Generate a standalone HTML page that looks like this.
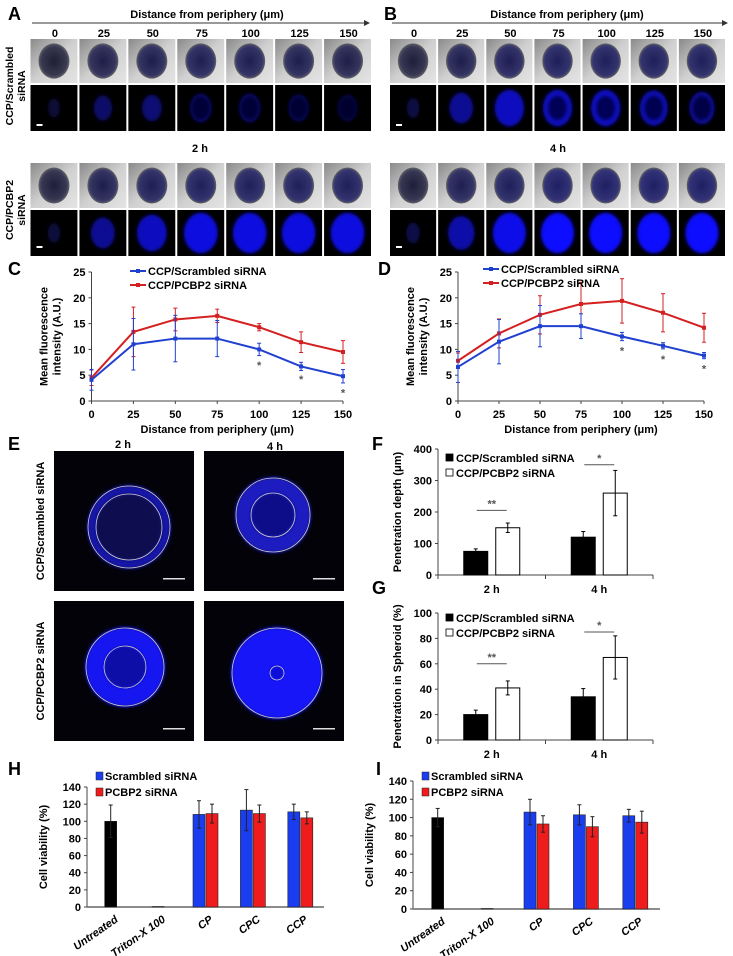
<!DOCTYPE html>
<html><head><meta charset="utf-8"><style>
body{margin:0;background:#fff}
svg{display:block;font-family:"Liberation Sans",Arial,sans-serif;font-weight:bold}
</style></head><body>
<svg id="fig" width="733" height="956" viewBox="0 0 733 956">
<defs>
<radialGradient id="bf" cx="50%" cy="50%" r="50%"><stop offset="0" stop-color="#1e1e2e"/><stop offset="0.8" stop-color="#3a3a48"/><stop offset="1" stop-color="#606068"/></radialGradient>
<linearGradient id="bg" x1="0" y1="0" x2="1" y2="1"><stop offset="0" stop-color="#8a8a8a"/><stop offset="0.5" stop-color="#d0d0d0"/><stop offset="1" stop-color="#e4e4e4"/></linearGradient>
<filter id="blur"><feGaussianBlur stdDeviation="1.5"/></filter>
</defs>
<g id="top">
<text x="8" y="20" font-size="18">A</text>
<text x="384" y="20" font-size="18">B</text>
<text x="207" y="18" font-size="11" text-anchor="middle">Distance from periphery (μm)</text>
<text x="567" y="18" font-size="11" text-anchor="middle">Distance from periphery (μm)</text>
<line x1="32" y1="23" x2="364" y2="23" stroke="#333"/><path d="M364,20 L370,23 L364,26Z" fill="#333"/>
<line x1="392" y1="23" x2="722" y2="23" stroke="#333"/><path d="M722,20 L728,23 L722,26Z" fill="#333"/>
<text x="200" y="152" font-size="11" text-anchor="middle">2 h</text>
<text x="558" y="152" font-size="11" text-anchor="middle">4 h</text>
<text transform="translate(13,86) rotate(-90)" font-size="10.5" text-anchor="middle">CCP/Scrambled</text>
<text transform="translate(25,86) rotate(-90)" font-size="10.5" text-anchor="middle">siRNA</text>
<text transform="translate(13,210) rotate(-90)" font-size="10.5" text-anchor="middle">CCP/PCBP2</text>
<text transform="translate(25,210) rotate(-90)" font-size="10.5" text-anchor="middle">siRNA</text>
</g>
<g id="eimg">
<text x="8" y="450" font-size="18">E</text>
<text x="123" y="448" font-size="11" text-anchor="middle">2 h</text>
<text x="275" y="450" font-size="11" text-anchor="middle">4 h</text>
<text transform="translate(44,521) rotate(-90)" font-size="11" text-anchor="middle">CCP/Scrambled siRNA</text>
<text transform="translate(44,671) rotate(-90)" font-size="11" text-anchor="middle">CCP/PCBP2 siRNA</text>
</g>
<g id="charts"></g>
</svg>
<script>
const NS="http://www.w3.org/2000/svg";
const fig=document.getElementById('fig');
function mk(tag,attrs,parent,txt){const e=document.createElementNS(NS,tag);for(const k in attrs)e.setAttribute(k,attrs[k]);if(txt!==undefined)e.textContent=txt;(parent||fig).appendChild(e);return e;}

// ===== Panel C/D data =====
const distances=[0,25,50,75,100,125,150];
const cScrambled=[4.1,11.0,12.1,12.1,10.0,6.7,4.8];
const cScrambledErr=[2.0,5.0,4.5,3.5,1.2,0.8,1.3];
const cPcbp2=[4.5,13.4,15.8,16.5,14.3,11.4,9.5];
const cPcbp2Err=[1.5,4.8,2.2,1.3,0.7,2.0,2.2];
const cStars=[[100,7.2],[125,4.5],[150,1.8]];
const dScrambled=[6.6,11.5,14.5,14.5,12.5,10.7,8.8];
const dScrambledErr=[3.0,4.3,4.0,2.4,0.8,0.6,0.6];
const dPcbp2=[7.8,13.1,16.7,18.8,19.4,17.1,14.2];
const dPcbp2Err=[1.5,2.8,3.7,4.2,4.3,3.7,2.8];
const dStars=[[100,10.0],[125,8.3],[150,6.5]];
const lineYTicks=[0,5,10,15,20,25];

// ===== Panel F/G data =====
const timeGroups=['2 h','4 h'];
const fScr=[75,120], fScrErr=[8,18], fPc=[150,260], fPcErr=[15,72];
const fTicks=[0,100,200,300,400];
const fSig=['**','*'], fSigY=[205,350];
const gScr=[20,34], gScrErr=[3.5,6.5], gPc=[41,65], gPcErr=[5.5,17];
const gTicks=[0,20,40,60,80,100];
const gSigY=[60,85];

// ===== Panel H/I data =====
const viabCats=['Untreated','Triton-X 100','CP','CPC','CCP'];
const hControl=[100,0.5], hControlErr=[19,0];
const hScr=[108,113,111], hScrErr=[16,24,9];
const hPc=[109,109,104], hPcErr=[11,10,7];
const iControl=[100,0.5], iControlErr=[10,0];
const iScr=[106,103,102], iScrErr=[14,11,7];
const iPc=[93,90,95], iPcErr=[9,11,12];
const viabTicks=[0,20,40,60,80,100,120,140];

// ===== Top image grids (decorative) =====
const topIntA=[[0.1,0.3,0.35,0.4,0.4,0.35,0.3],[0.08,0.3,0.35,0.4,0.4,0.35,0.3],[0.15,0.35,0.45,0.5,0.5,0.5,0.5],[0.1,0.5,0.7,0.85,0.85,0.85,0.85]];
const topIntB=[[0.15,0.35,0.45,0.5,0.5,0.5,0.5],[0.12,0.5,0.7,0.7,0.7,0.65,0.55],[0.15,0.4,0.5,0.6,0.6,0.6,0.6],[0.15,0.6,0.9,1,1,1,1]];
function grid(x0,x1,panel){
  const w=(x1-x0)/7;const labels=['0','25','50','75','100','125','150'];
  const rows=[[39,84],[85,132],[163,209],[210,257]];
  const ints=panel==='b'?topIntB:topIntA;
  for(let c=0;c<7;c++){
    const x=x0+c*w;
    const t=mk('text',{x:x+w/2,y:37,'font-size':11,'text-anchor':'middle'},fig,labels[c]);
    
    
    rows.forEach((r,ri)=>{
      const h=r[1]-r[0]-1, iw=w-2;
      const bright=(ri%2===0);
      const it=ints[ri][c];
      const im=mk('rect',{x:x,y:r[0],width:iw,height:h,fill:bright?'url(#bg)':'#000'});
      
      
      const cx=x+iw/2, cy=r[0]+h/2;
      if(bright){
        mk('ellipse',{cx:cx,cy:cy,rx:iw*0.33,ry:h*0.4,fill:'url(#bf)'});
        mk('ellipse',{cx:cx,cy:cy,rx:iw*0.3,ry:h*0.37,fill:'#2020d0','fill-opacity':Math.min(0.5,it*0.55)});
      }else{
        const b=Math.round(40+215*Math.min(1,it));
        const sz=0.1+0.26*Math.min(1,it*1.2);
        mk('ellipse',{cx:cx,cy:cy,rx:iw*sz,ry:h*(sz+0.08),fill:'rgb(10,10,'+b+')',filter:'url(#blur)'});
        if(c>=3 && ri===1) mk('ellipse',{cx:cx,cy:cy,rx:iw*0.2,ry:h*0.26,fill:'rgb(0,0,'+Math.round(b*0.45)+')',filter:'url(#blur)'});
      }
    });
  }
  mk('rect',{x:x0+6,y:124,width:6,height:2,fill:'#fff'});
  mk('rect',{x:x0+6,y:246,width:6,height:2,fill:'#fff'});
}
grid(30.5,373,'a');grid(390,727,'b');

// ===== Panel E images =====
const eImgs=[[54,451,75,76,41,33,'#1818a8','#0a0a50'],[204,451,69,64,37,22,'#1c1cc0','#10108a'],[54,601,71,66,39,21,'#1818f0','#1010a8'],[204,601,73,72,45,7,'#1414f8','#1010d8']];
eImgs.forEach((d,i)=>{
  const r=mk('rect',{x:d[0],y:d[1],width:140,height:140,fill:'#020208'});
  
  
  mk('circle',{cx:d[0]+d[2],cy:d[1]+d[3],r:d[4]+1,fill:d[6],filter:'url(#blur)'});
  mk('circle',{cx:d[0]+d[2],cy:d[1]+d[3],r:d[5],fill:d[7],filter:'url(#blur)'});
  mk('circle',{cx:d[0]+d[2],cy:d[1]+d[3],r:d[4],fill:'none',stroke:'#ccc','stroke-width':0.8});
  mk('circle',{cx:d[0]+d[2],cy:d[1]+d[3],r:d[5],fill:'none',stroke:'#ccc','stroke-width':0.8});
  mk('rect',{x:d[0]+109,y:d[1]+127,width:22,height:1.5,fill:'#ddd'});
});

const G=document.getElementById('charts');
function yAxis(g,x,yBot,yTop,ticks,vmax,name){
  const sy=v=>yBot-(v/vmax)*(yBot-yTop);
  const ax=mk('line',{x1:x,y1:yBot,x2:x,y2:yTop,stroke:'#444'},g);
  
  
  ticks.forEach(t=>{mk('line',{x1:x-3,y1:sy(t),x2:x,y2:sy(t),stroke:'#444'},g);
    mk('text',{x:x-6,y:sy(t)+4,'font-size':11,'text-anchor':'end'},g,t);});
  return sy;
}

function lineChart(p,x0,x1,yBot,yTop,bv,be,rv,re,stars,legX,legY){
  const g=mk('g',{},G);
  
  
  const sy=yAxis(g,x0,yBot,yTop,lineYTicks,25,'y-axis-'+p);
  const sx=v=>x0+(v/150)*(x1-x0);
  const xa=mk('line',{x1:x0,y1:yBot,x2:x1,y2:yBot,stroke:'#444'},g);
  
  
  distances.forEach(d=>{mk('line',{x1:sx(d),y1:yBot,x2:sx(d),y2:yBot+3,stroke:'#444'},g);
    mk('text',{x:sx(d),y:yBot+17,'font-size':11,'text-anchor':'middle'},g,d);});
  const t=mk('text',{x:(x0+x1)/2,y:yBot+32,'font-size':11,'text-anchor':'middle'},g,'Distance from periphery (μm)');
  
  
  const yt=(yBot+yTop)/2, lx=x0-44;
  const y1=mk('text',{transform:`translate(${lx},${yt}) rotate(-90)`,'font-size':11,'text-anchor':'middle'},g,'Mean fluorescence');
  
  
  mk('text',{transform:`translate(${lx+13},${yt}) rotate(-90)`,'font-size':11,'text-anchor':'middle'},g,'intensity (A.U.)');
  [[rv,re,'#d42020','pcbp2'],[bv,be,'#2040d0','scrambled']].forEach(s=>{
    const pl=mk('polyline',{points:distances.map((d,i)=>sx(d)+','+sy(s[0][i])).join(' '),fill:'none',stroke:s[2],'stroke-width':2},g);
    
    
    distances.forEach((d,i)=>{
      const X=sx(d);
      mk('line',{x1:X,y1:sy(s[0][i]-s[1][i]),x2:X,y2:sy(s[0][i]+s[1][i]),stroke:s[2]},g);
      mk('line',{x1:X-2,y1:sy(s[0][i]+s[1][i]),x2:X+2,y2:sy(s[0][i]+s[1][i]),stroke:s[2]},g);
      mk('line',{x1:X-2,y1:sy(s[0][i]-s[1][i]),x2:X+2,y2:sy(s[0][i]-s[1][i]),stroke:s[2]},g);
      const pt=mk('rect',{x:X-2,y:sy(s[0][i])-2,width:4,height:4,fill:s[2]},g);
      
      
    });
  });
  stars.forEach(s=>mk('text',{x:sx(s[0]),y:sy(s[1])+5,'font-size':11,'text-anchor':'middle',fill:'#555'},g,'*'));
  [['CCP/Scrambled siRNA','#2040d0'],['CCP/PCBP2 siRNA','#d42020']].forEach((l,i)=>{
    const yy=legY+i*14;
    mk('line',{x1:legX,y1:yy,x2:legX+16,y2:yy,stroke:l[1],'stroke-width':2},g);
    mk('rect',{x:legX+6,y:yy-2,width:4,height:4,fill:l[1]},g);
    const lt=mk('text',{x:legX+18,y:yy+4,'font-size':11},g,l[0]);
    
    
  });
}
mk('text',{x:8,y:275,'font-size':18},G,'C');
mk('text',{x:378,y:275,'font-size':18},G,'D');
lineChart('c',91.5,343,401,272,cScrambled,cScrambledErr,cPcbp2,cPcbp2Err,cStars,130,271);
lineChart('d',458,704,401,272,dScrambled,dScrambledErr,dPcbp2,dPcbp2Err,dStars,483,269);

function pairBar(p,yBot,yTop,ticks,vmax,scr,scrE,pc,pcE,sigY,title,legY){
  const g=mk('g',{},G);
  
  
  const x0=438,x1=653;
  const sy=yAxis(g,x0,yBot,yTop,ticks,vmax,'y-axis-'+p);
  const xa=mk('line',{x1:x0,y1:yBot,x2:x1,y2:yBot,stroke:'#444'},g);
  
  
  [x0,(x0+x1)/2,x1].forEach(x=>mk('line',{x1:x,y1:yBot,x2:x,y2:yBot+4,stroke:'#444'},g));
  const gw=(x1-x0)/2, bw=24;
  timeGroups.forEach((tg,i)=>{
    const c=x0+gw*(i+0.5);
    [[scr,scrE,'#000',c-bw-4,'scrambled'],[pc,pcE,'#fff',c+4,'pcbp2']].forEach(s=>{
      const b=mk('rect',{x:s[3],y:sy(s[0][i]),width:bw,height:yBot-sy(s[0][i]),fill:s[2],stroke:'#000','stroke-width':1},g);
      
      
      const bx=s[3]+bw/2;
      mk('line',{x1:bx,y1:sy(s[0][i]),x2:bx,y2:sy(s[0][i]+s[1][i]),stroke:'#000'},g);
      mk('line',{x1:bx-2,y1:sy(s[0][i]+s[1][i]),x2:bx+2,y2:sy(s[0][i]+s[1][i]),stroke:'#000'},g);
      if(s[2]==='#fff'){mk('line',{x1:bx,y1:sy(s[0][i]),x2:bx,y2:sy(s[0][i]-s[1][i]),stroke:'#000'},g);
        mk('line',{x1:bx-2,y1:sy(s[0][i]-s[1][i]),x2:bx+2,y2:sy(s[0][i]-s[1][i]),stroke:'#000'},g);}
    });
    mk('line',{x1:c-15,y1:sy(sigY[i]),x2:c+15,y2:sy(sigY[i]),stroke:'#555'},g);
    mk('text',{x:c,y:sy(sigY[i])-3,'font-size':11,'text-anchor':'middle',fill:'#555'},g,fSig[i]);
    const xl=mk('text',{x:c,y:yBot+18,'font-size':11,'text-anchor':'middle'},g,tg);
    
    
  });
  const yt=mk('text',{transform:`translate(401,${(yBot+yTop)/2}) rotate(-90)`,'font-size':11,'text-anchor':'middle'},g,title);
  
  
  [['CCP/Scrambled siRNA','#000'],['CCP/PCBP2 siRNA','#fff']].forEach((l,i)=>{
    const yy=legY+i*15;
    mk('rect',{x:446,y:yy-8,width:7,height:7,fill:l[1],stroke:'#000','stroke-width':0.8},g);
    const lt=mk('text',{x:456,y:yy,'font-size':11},g,l[0]);
    
    
  });
}
mk('text',{x:372,y:450,'font-size':18},G,'F');
mk('text',{x:372,y:594,'font-size':18},G,'G');
pairBar('f',575,449,fTicks,400,fScr,fScrErr,fPc,fPcErr,fSigY,'Penetration depth (μm)',462);
pairBar('g',740,613,gTicks,100,gScr,gScrErr,gPc,gPcErr,gSigY,'Penetration in Spheroid (%)',622);

function viab(p,x0,x1,yBot,yTop,ctl,ctlE,scr,scrE,pc,pcE){
  const g=mk('g',{},G);
  
  
  const sy=yAxis(g,x0,yBot,yTop,viabTicks,140,'y-axis-'+p);
  const xa=mk('line',{x1:x0,y1:yBot,x2:x1,y2:yBot,stroke:'#666','stroke-width':1.5},g);
  
  
  const gw=(x1-x0)/5, bw=12;
  function bar(cx,v,e,col,nm){
    const b=mk('rect',{x:cx-bw/2,y:sy(v),width:bw,height:yBot-sy(v),fill:col,stroke:'#222','stroke-width':0.6},g);
    
    
    if(e>0){mk('line',{x1:cx,y1:sy(v-e),x2:cx,y2:sy(v+e),stroke:'#222'},g);
      mk('line',{x1:cx-2,y1:sy(v+e),x2:cx+2,y2:sy(v+e),stroke:'#222'},g);
      mk('line',{x1:cx-2,y1:sy(v-e),x2:cx+2,y2:sy(v-e),stroke:'#222'},g);}
  }
  viabCats.forEach((c,i)=>{
    const cx=x0+gw*(i+0.5);
    if(i<2) bar(cx,ctl[i],ctlE[i],'#000','bar-'+p+'-'+c.toLowerCase().replace(/[^a-z0-9]/g,''));
    else {bar(cx-6.5,scr[i-2],scrE[i-2],'#1a3df0','bar-'+p+'-scrambled-'+c.toLowerCase());
      bar(cx+6.5,pc[i-2],pcE[i-2],'#ee1c1c','bar-'+p+'-pcbp2-'+c.toLowerCase());}
    const t=mk('text',{transform:`translate(${cx+8},${yBot+14}) rotate(-35)`,'font-size':11,'font-style':'italic','text-anchor':'end'},g,c);
    
    
  });
  const yt=mk('text',{transform:`translate(${x0-40},${(yBot+yTop)/2}) rotate(-90)`,'font-size':11,'text-anchor':'middle'},g,'Cell viability (%)');
  
  
  [['Scrambled siRNA','#1a3df0'],['PCBP2 siRNA','#ee1c1c']].forEach((l,i)=>{
    const yy=780+i*16;
    mk('rect',{x:x0+9,y:yy-8,width:7,height:8,fill:l[1],stroke:'#222','stroke-width':0.5},g);
    const lt=mk('text',{x:x0+18,y:yy,'font-size':11},g,l[0]);
    
    
  });
}
mk('text',{x:8,y:775,'font-size':18},G,'H');
mk('text',{x:376,y:775,'font-size':18},G,'I');
viab('h',87,324,907,787,hControl,hControlErr,hScr,hScrErr,hPc,hPcErr);
viab('i',413,660,909,781,iControl,iControlErr,iScr,iScrErr,iPc,iPcErr);
</script>
</body></html>
